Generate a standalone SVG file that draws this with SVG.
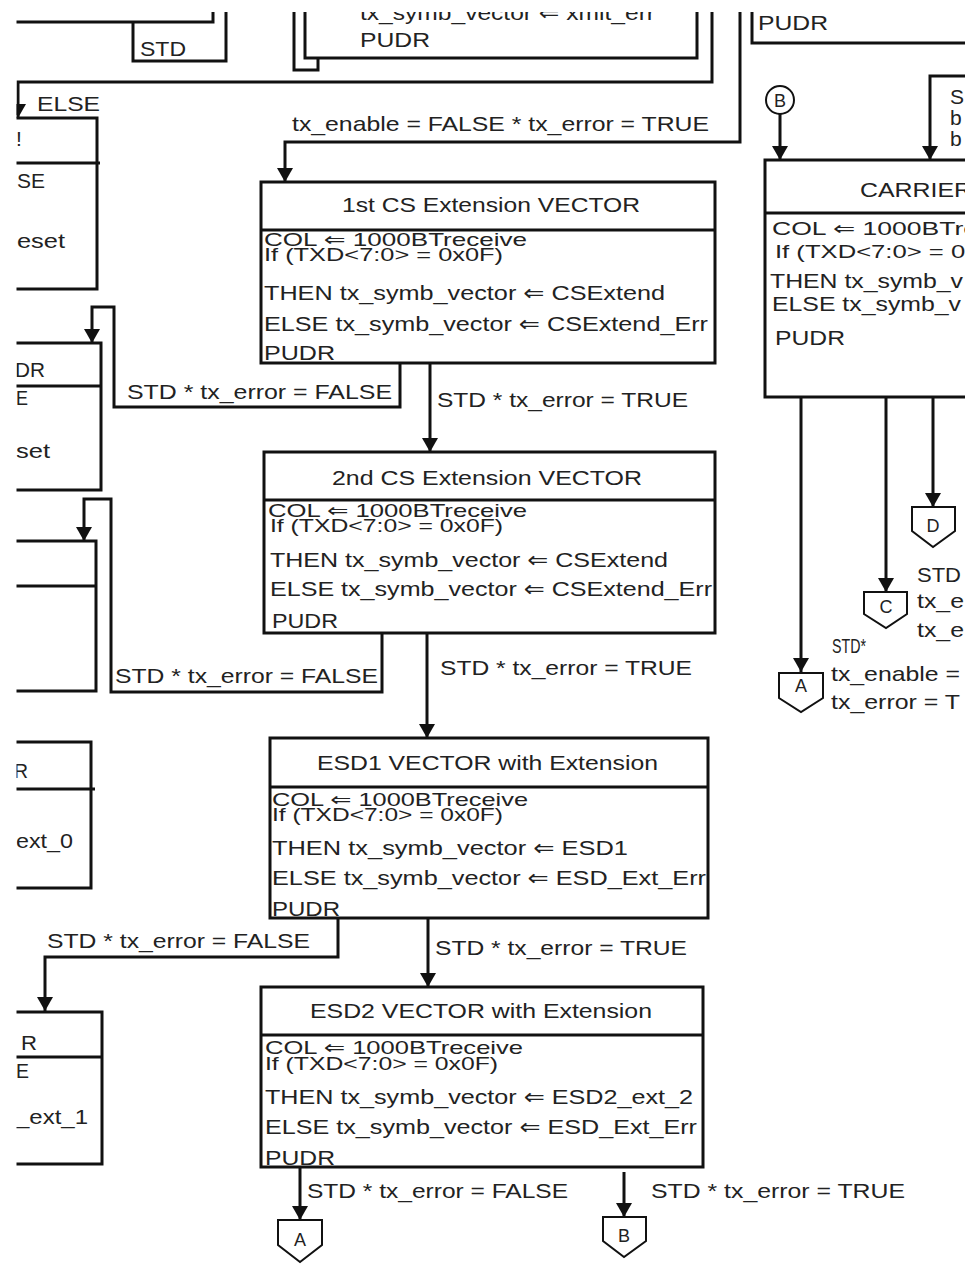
<svg xmlns="http://www.w3.org/2000/svg" width="965" height="1264" viewBox="0 0 965 1264">
<style>
.ln{fill:none;stroke:#111;stroke-width:3}
.bx{fill:#fff;stroke:#111;stroke-width:3}
.t{font-family:"Liberation Sans",Arial,"DejaVu Sans",sans-serif;font-size:21px;fill:#222}
.s{font-family:"Liberation Sans",Arial,"DejaVu Sans",sans-serif;font-size:19px;fill:#222}
.off{fill:#fff;stroke:#111;stroke-width:2}
.ol{font-family:"Liberation Sans",Arial,sans-serif;font-size:18px;fill:#222;text-anchor:middle}
</style>
<defs>
<marker id="ah" markerUnits="userSpaceOnUse" markerWidth="14" markerHeight="16" viewBox="0 -8 14 16" refX="14" refY="0" orient="auto"><path d="M0,-8 L14,0 L0,8 Z" fill="#111"/></marker>
<clipPath id="vp"><rect x="16.5" y="12" width="960" height="1260"/></clipPath>
</defs>
<rect width="965" height="1264" fill="#fff"/>
<g clip-path="url(#vp)">
<g id="connectors">
<path class="ln" d="M213,0 V22 H0"/>
<path class="ln" d="M133,22 V61 H226 V0"/>
<text class="t" x="140" y="56" textLength="46" lengthAdjust="spacingAndGlyphs">STD</text>
<path class="ln" d="M294,0 V70 H318 V58"/>
<path class="ln" d="M712,0 V82 H18 V118" marker-end="url(#ah)"/>
<text class="t" x="37" y="111" textLength="63" lengthAdjust="spacingAndGlyphs">ELSE</text>
<path class="ln" d="M740,0 V142 H285 V182" marker-end="url(#ah)"/>
<text class="t" x="292" y="131" textLength="417" lengthAdjust="spacingAndGlyphs">tx_enable = FALSE * tx_error = TRUE</text>
<path class="ln" d="M400,363 V407 H114 V307 H92 V343" marker-end="url(#ah)"/>
<text class="t" x="127" y="399" textLength="265" lengthAdjust="spacingAndGlyphs">STD * tx_error = FALSE</text>
<path class="ln" d="M430,363 V452" marker-end="url(#ah)"/>
<text class="t" x="437" y="407" textLength="251" lengthAdjust="spacingAndGlyphs">STD * tx_error = TRUE</text>
<path class="ln" d="M382,633 V692 H111 V499 H84 V541" marker-end="url(#ah)"/>
<text class="t" x="115" y="683" textLength="263" lengthAdjust="spacingAndGlyphs">STD * tx_error = FALSE</text>
<path class="ln" d="M427,633 V738" marker-end="url(#ah)"/>
<text class="t" x="440" y="675" textLength="252" lengthAdjust="spacingAndGlyphs">STD * tx_error = TRUE</text>
<path class="ln" d="M338,918 V957 H45 V1011" marker-end="url(#ah)"/>
<text class="t" x="47" y="948" textLength="263" lengthAdjust="spacingAndGlyphs">STD * tx_error = FALSE</text>
<path class="ln" d="M428,915 V987" marker-end="url(#ah)"/>
<text class="t" x="435" y="955" textLength="252" lengthAdjust="spacingAndGlyphs">STD * tx_error = TRUE</text>
<path class="ln" d="M300,1167 V1220" marker-end="url(#ah)"/>
<text class="t" x="307" y="1198" textLength="261" lengthAdjust="spacingAndGlyphs">STD * tx_error = FALSE</text>
<path class="ln" d="M624,1172 V1217" marker-end="url(#ah)"/>
<text class="t" x="651" y="1198" textLength="254" lengthAdjust="spacingAndGlyphs">STD * tx_error = TRUE</text>
<path class="ln" d="M780,114 V160" marker-end="url(#ah)"/>
<path class="ln" d="M975,76 H930 V160" marker-end="url(#ah)"/>
<text class="t" x="950" y="104">S</text>
<text class="t" x="950" y="125">b</text>
<text class="t" x="950" y="146">b</text>
<path class="ln" d="M801,397 V672" marker-end="url(#ah)"/>
<path class="ln" d="M886,397 V592" marker-end="url(#ah)"/>
<path class="ln" d="M933,397 V507" marker-end="url(#ah)"/>
<text class="t" x="917" y="582" textLength="44" lengthAdjust="spacingAndGlyphs">STD</text>
<text class="t" x="917" y="608" textLength="47" lengthAdjust="spacingAndGlyphs">tx_e</text>
<text class="t" x="917" y="637" textLength="47" lengthAdjust="spacingAndGlyphs">tx_e</text>
<text class="t" x="832" y="653" textLength="34" lengthAdjust="spacingAndGlyphs">STD*</text>
<text class="t" x="831" y="681" textLength="129" lengthAdjust="spacingAndGlyphs">tx_enable =</text>
<text class="t" x="831" y="709" textLength="129" lengthAdjust="spacingAndGlyphs">tx_error = T</text>
</g>
<g id="n_top">
<rect class="bx" x="305" y="-50" width="392" height="108"/>
<text class="t" x="360" y="20" textLength="295" lengthAdjust="spacingAndGlyphs">tx_symb_vector ⇐ xmit_err</text>
<text class="t" x="360" y="47" textLength="70" lengthAdjust="spacingAndGlyphs">PUDR</text>
</g>
<g id="n_top_right">
<path class="ln" d="M752,0 V43 H975"/>
<text class="t" x="758" y="30" textLength="70" lengthAdjust="spacingAndGlyphs">PUDR</text>
</g>
<g id="n_left1">
<rect class="bx" x="-10" y="118" width="107" height="171"/>
<line class="ln" x1="0" y1="163" x2="100" y2="163"/>
<text class="t" x="16" y="146">!</text>
<text class="t" x="17" y="188" textLength="28" lengthAdjust="spacingAndGlyphs">SE</text>
<text class="t" x="17" y="248" textLength="48" lengthAdjust="spacingAndGlyphs">eset</text>
</g>
<g id="n_left2">
<rect class="bx" x="-10" y="343" width="111" height="147"/>
<line class="ln" x1="0" y1="386" x2="101" y2="386"/>
<text class="t" x="15" y="377" textLength="30" lengthAdjust="spacingAndGlyphs">DR</text>
<text class="t" x="16" y="405" textLength="12" lengthAdjust="spacingAndGlyphs">E</text>
<text class="t" x="16" y="458" textLength="34" lengthAdjust="spacingAndGlyphs">set</text>
</g>
<g id="n_left3">
<rect class="bx" x="-10" y="541" width="106" height="150"/>
<line class="ln" x1="0" y1="586" x2="96" y2="586"/>
</g>
<g id="n_left4">
<rect class="bx" x="-10" y="742" width="101" height="146"/>
<line class="ln" x1="0" y1="789" x2="95" y2="789"/>
<text class="t" x="14" y="778" textLength="14" lengthAdjust="spacingAndGlyphs">R</text>
<text class="t" x="16" y="848" textLength="57" lengthAdjust="spacingAndGlyphs">ext_0</text>
</g>
<g id="n_left5">
<rect class="bx" x="-10" y="1012" width="112" height="152"/>
<line class="ln" x1="0" y1="1057" x2="102" y2="1057"/>
<text class="t" x="21" y="1050" textLength="16" lengthAdjust="spacingAndGlyphs">R</text>
<text class="t" x="16" y="1078" textLength="13" lengthAdjust="spacingAndGlyphs">E</text>
<text class="t" x="16" y="1124" textLength="72" lengthAdjust="spacingAndGlyphs">_ext_1</text>
</g>
<g id="n_cs1">
<rect class="bx" x="261" y="182" width="454" height="181"/>
<line class="ln" x1="261" y1="230" x2="715" y2="230"/>
<text class="t" x="342" y="212" textLength="298" lengthAdjust="spacingAndGlyphs">1st CS Extension VECTOR</text>
<text class="s" x="264" y="246" textLength="263" lengthAdjust="spacingAndGlyphs">COL ⇐ 1000BTreceive</text>
<text class="s" x="264" y="261" textLength="239" lengthAdjust="spacingAndGlyphs">If (TXD&lt;7:0&gt; = 0x0F)</text>
<text class="t" x="264" y="300" textLength="401" lengthAdjust="spacingAndGlyphs">THEN tx_symb_vector ⇐ CSExtend</text>
<text class="t" x="264" y="331" textLength="444" lengthAdjust="spacingAndGlyphs">ELSE tx_symb_vector ⇐ CSExtend_Err</text>
<text class="t" x="264" y="360" textLength="71" lengthAdjust="spacingAndGlyphs">PUDR</text>
</g>
<g id="n_cs2">
<rect class="bx" x="264" y="452" width="451" height="181"/>
<line class="ln" x1="264" y1="500" x2="715" y2="500"/>
<text class="t" x="332" y="485" textLength="310" lengthAdjust="spacingAndGlyphs">2nd CS Extension VECTOR</text>
<text class="s" x="268" y="517" textLength="259" lengthAdjust="spacingAndGlyphs">COL ⇐ 1000BTreceive</text>
<text class="s" x="270" y="532" textLength="233" lengthAdjust="spacingAndGlyphs">If (TXD&lt;7:0&gt; = 0x0F)</text>
<text class="t" x="270" y="567" textLength="398" lengthAdjust="spacingAndGlyphs">THEN tx_symb_vector ⇐ CSExtend</text>
<text class="t" x="270" y="596" textLength="442" lengthAdjust="spacingAndGlyphs">ELSE tx_symb_vector ⇐ CSExtend_Err</text>
<text class="t" x="272" y="628" textLength="66" lengthAdjust="spacingAndGlyphs">PUDR</text>
</g>
<g id="n_esd1">
<rect class="bx" x="270" y="738" width="438" height="180"/>
<line class="ln" x1="270" y1="787" x2="708" y2="787"/>
<text class="t" x="317" y="770" textLength="341" lengthAdjust="spacingAndGlyphs">ESD1 VECTOR with Extension</text>
<text class="s" x="272" y="806" textLength="256" lengthAdjust="spacingAndGlyphs">COL ⇐ 1000BTreceive</text>
<text class="s" x="272" y="821" textLength="231" lengthAdjust="spacingAndGlyphs">If (TXD&lt;7:0&gt; = 0x0F)</text>
<text class="t" x="272" y="855" textLength="356" lengthAdjust="spacingAndGlyphs">THEN tx_symb_vector ⇐ ESD1</text>
<text class="t" x="272" y="885" textLength="434" lengthAdjust="spacingAndGlyphs">ELSE tx_symb_vector ⇐ ESD_Ext_Err</text>
<text class="t" x="272" y="916" textLength="68" lengthAdjust="spacingAndGlyphs">PUDR</text>
</g>
<g id="n_esd2">
<rect class="bx" x="261" y="987" width="442" height="180"/>
<line class="ln" x1="261" y1="1035" x2="703" y2="1035"/>
<text class="t" x="310" y="1018" textLength="342" lengthAdjust="spacingAndGlyphs">ESD2 VECTOR with Extension</text>
<text class="s" x="265" y="1054" textLength="258" lengthAdjust="spacingAndGlyphs">COL ⇐ 1000BTreceive</text>
<text class="s" x="265" y="1070" textLength="233" lengthAdjust="spacingAndGlyphs">If (TXD&lt;7:0&gt; = 0x0F)</text>
<text class="t" x="265" y="1104" textLength="428" lengthAdjust="spacingAndGlyphs">THEN tx_symb_vector ⇐ ESD2_ext_2</text>
<text class="t" x="265" y="1134" textLength="432" lengthAdjust="spacingAndGlyphs">ELSE tx_symb_vector ⇐ ESD_Ext_Err</text>
<text class="t" x="265" y="1165" textLength="70" lengthAdjust="spacingAndGlyphs">PUDR</text>
</g>
<g id="n_carrier">
<rect class="bx" x="765" y="160" width="260" height="237"/>
<line class="ln" x1="765" y1="213" x2="975" y2="213"/>
<text class="t" x="860" y="197" textLength="112" lengthAdjust="spacingAndGlyphs">CARRIER</text>
<text class="s" x="772" y="235" textLength="206" lengthAdjust="spacingAndGlyphs">COL ⇐ 1000BTre</text>
<text class="s" x="775" y="258" textLength="203" lengthAdjust="spacingAndGlyphs">If (TXD&lt;7:0&gt; = 0x</text>
<text class="t" x="770" y="288" textLength="193" lengthAdjust="spacingAndGlyphs">THEN tx_symb_v</text>
<text class="t" x="772" y="311" textLength="189" lengthAdjust="spacingAndGlyphs">ELSE tx_symb_v</text>
<text class="t" x="775" y="345" textLength="70" lengthAdjust="spacingAndGlyphs">PUDR</text>
</g>
<g id="c_B_in">
<circle class="off" cx="780" cy="100" r="14"/>
<text class="ol" x="780" y="107">B</text>
</g>
<g id="c_D">
<polygon class="off" points="912,507 955,507 955,531 933,547 912,531"/>
<text class="ol" x="933" y="532">D</text>
</g>
<g id="c_C">
<polygon class="off" points="864,592 907,592 907,614 886,628 864,614"/>
<text class="ol" x="886" y="613">C</text>
</g>
<g id="c_A_right">
<polygon class="off" points="779,673 823,673 823,698 801,712 779,698"/>
<text class="ol" x="801" y="692">A</text>
</g>
<g id="c_A_bottom">
<polygon class="off" points="278,1220 322,1220 322,1245 300,1262 278,1245"/>
<text class="ol" x="300" y="1246">A</text>
</g>
<g id="c_B_bottom">
<polygon class="off" points="603,1217 646,1217 646,1241 624,1257 603,1241"/>
<text class="ol" x="624" y="1242">B</text>
</g>
</g>
</svg>
